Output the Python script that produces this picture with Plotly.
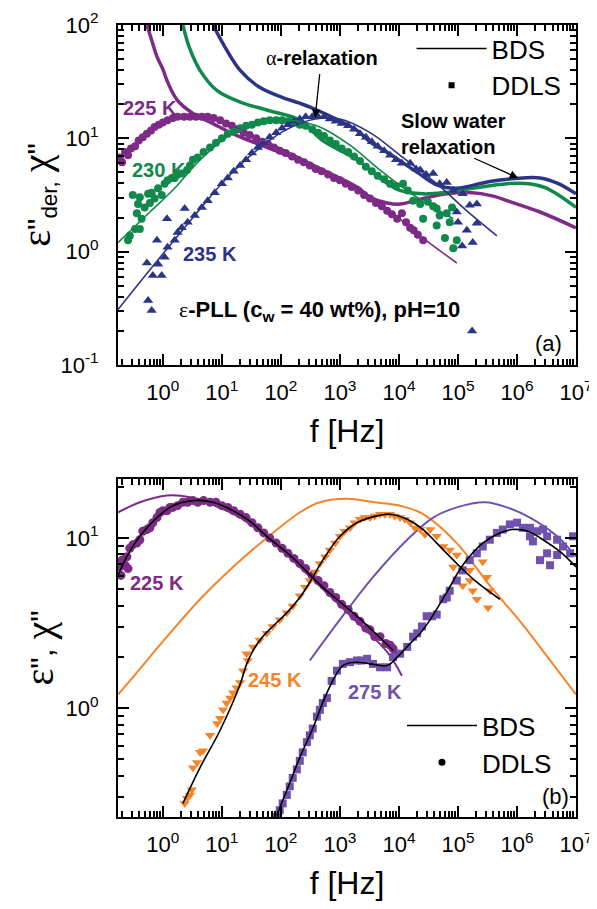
import numpy as np
import plotly.graph_objects as go

# ---------------- Panel (a) data (log10 f [Hz], log10 eps'') ----------------
# BDS derivative spectra (thick lines)
a_bds225_lf = [-0.27, -0.18, -0.10, 0.0, 0.07, 0.24, 0.51, 0.85, 1.19, 1.76, 2.32, 2.71, 3.29, 3.51, 3.80, 4.02, 4.41, 4.81, 5.25, 5.6, 5.83, 6.39, 7.0]
a_bds225_le = [2.0, 1.85, 1.72, 1.61, 1.51, 1.34, 1.22, 1.13, 1.04, 0.92, 0.81, 0.72, 0.57, 0.48, 0.43, 0.42, 0.47, 0.51, 0.52, 0.49, 0.45, 0.35, 0.21]
a_bds230_lf = [0.34, 0.45, 0.63, 0.92, 1.31, 1.76, 2.32, 2.71, 3.29, 3.73, 4.02, 4.41, 4.75, 5.25, 5.83, 6.2, 6.5, 7.0]
a_bds230_le = [2.0, 1.80, 1.60, 1.42, 1.32, 1.25, 1.16, 0.98, 0.81, 0.63, 0.54, 0.51, 0.52, 0.56, 0.60, 0.60, 0.56, 0.39]
a_bds235_lf = [0.85, 1.08, 1.31, 1.64, 2.03, 2.32, 2.61, 3.29, 3.51, 3.85, 4.31, 4.64, 4.98, 5.54, 6.10, 6.39, 6.7, 7.0]
a_bds235_le = [2.0, 1.78, 1.60, 1.45, 1.36, 1.31, 1.25, 1.07, 0.97, 0.86, 0.70, 0.59, 0.56, 0.62, 0.65, 0.65, 0.60, 0.51]

# fits (thin lines)
a_fit225_lf = [-0.76, -0.51, -0.22, 0.12, 0.54, 0.97, 1.47, 2.32, 3.17, 3.80, 4.36, 4.98]
a_fit225_le = [0.79, 0.92, 1.06, 1.16, 1.19, 1.16, 1.04, 0.83, 0.60, 0.38, 0.14, -0.10]
a_fit230_lf = [-0.76, -0.22, 0.20, 0.63, 1.14, 1.64, 2.15, 2.66, 3.17, 3.68, 4.19, 4.92]
a_fit230_le = [0.08, 0.35, 0.56, 0.81, 1.03, 1.13, 1.16, 1.10, 0.94, 0.72, 0.52, 0.29]
a_fit235_lf = [-0.76, -0.39, 0.0, 0.54, 1.05, 1.56, 2.07, 2.58, 3.0, 3.51, 4.02, 4.64, 5.15, 5.66]
a_fit235_le = [-0.51, -0.27, -0.02, 0.32, 0.63, 0.88, 1.07, 1.17, 1.17, 1.05, 0.85, 0.60, 0.36, 0.14]

# DDLS data points
a_dd225_lf = [-0.73, -0.69, -0.64, -0.59, -0.54, -0.47, -0.41, -0.34, -0.27, -0.20, -0.14, -0.07, 0.0, 0.08, 0.17, 0.25, 0.36, 0.46, 0.56, 0.66, 0.76, 0.86, 0.97, 1.07, 1.17, 1.27, 1.37, 1.47, 1.58, 1.68, 1.78, 1.88, 1.98, 2.08, 2.19, 2.29, 2.39, 2.49, 2.59, 2.69, 2.80, 2.90, 3.0, 3.10, 3.20, 3.31, 3.41, 3.51, 3.61, 3.71, 3.80, 3.88, 3.97, 4.05, 4.12, 4.19, 4.25, 4.32, 4.41]
a_dd225_le = [0.83, 0.79, 0.88, 0.85, 0.91, 0.93, 0.98, 1.01, 1.04, 1.07, 1.10, 1.12, 1.14, 1.16, 1.18, 1.19, 1.19, 1.19, 1.19, 1.19, 1.19, 1.18, 1.16, 1.13, 1.11, 1.08, 1.05, 1.03, 1.00, 0.97, 0.95, 0.92, 0.89, 0.87, 0.84, 0.81, 0.79, 0.76, 0.73, 0.71, 0.68, 0.65, 0.63, 0.60, 0.57, 0.54, 0.50, 0.47, 0.43, 0.40, 0.36, 0.33, 0.29, 0.34, 0.26, 0.21, 0.19, 0.15, 0.10]
a_dd230_lf = [-0.59, -0.56, -0.47, -0.39, -0.44, -0.36, -0.42, -0.31, -0.51, -0.39, -0.25, -0.22, -0.19, -0.14, -0.08, -0.02, 0.03, 0.08, 0.15, 0.20, 0.25, 0.32, 0.41, 0.46, 0.51, 0.59, 0.69, 0.80, 0.90, 1.0, 1.10, 1.20, 1.31, 1.41, 1.51, 1.61, 1.71, 1.81, 1.92, 2.02, 2.12, 2.22, 2.32, 2.42, 2.53, 2.63, 2.73, 2.83, 2.93, 3.03, 3.14, 3.24, 3.34, 3.44, 3.54, 3.64, 3.75, 3.85, 3.95, 4.07, 4.15, 4.24, 4.36, 4.41, 4.49, 4.58, 4.64, 4.69, 4.81, 4.86, 4.64, 4.78, 4.90, 4.98, 4.92]
a_dd230_le = [0.10, 0.14, 0.20, 0.20, 0.34, 0.29, 0.42, 0.39, 0.50, 0.48, 0.51, 0.43, 0.52, 0.47, 0.56, 0.50, 0.60, 0.63, 0.65, 0.65, 0.68, 0.69, 0.72, 0.76, 0.81, 0.83, 0.88, 0.92, 0.96, 1.0, 1.04, 1.06, 1.09, 1.11, 1.12, 1.14, 1.15, 1.16, 1.16, 1.16, 1.15, 1.14, 1.12, 1.11, 1.08, 1.05, 1.02, 0.98, 0.95, 0.91, 0.88, 0.84, 0.80, 0.75, 0.71, 0.67, 0.64, 0.60, 0.58, 0.60, 0.54, 0.45, 0.42, 0.29, 0.44, 0.40, 0.38, 0.32, 0.34, 0.26, 0.23, 0.12, 0.39, 0.10, 0.03]
a_dd235_lf = [-0.25, -0.19, -0.27, -0.17, -0.02, -0.10, -0.08, 0.03, 0.07, 0.08, 0.20, 0.25, 0.32, 0.37, 0.42, 0.54, 0.66, 0.76, 0.88, 1.0, 1.10, 1.20, 1.31, 1.41, 1.51, 1.61, 1.71, 1.81, 1.92, 2.02, 2.12, 2.22, 2.32, 2.42, 2.53, 2.63, 2.73, 2.83, 2.93, 3.03, 3.14, 3.24, 3.34, 3.44, 3.54, 3.64, 3.75, 3.85, 3.95, 4.05, 4.19, 4.29, 4.36, 4.46, 4.58, 4.69, 4.81, 4.92, 5.08, 5.20, 5.32, 4.98, 5.0, 5.15, 5.32, 5.07, 5.25, 5.24]
a_dd235_le = [-0.43, -0.52, -0.10, -0.21, -0.21, 0.10, -0.11, -0.05, 0.29, 0.04, 0.10, 0.17, 0.21, 0.38, 0.26, 0.32, 0.39, 0.45, 0.52, 0.60, 0.65, 0.71, 0.76, 0.81, 0.87, 0.92, 0.96, 1.01, 1.05, 1.09, 1.12, 1.15, 1.17, 1.19, 1.19, 1.19, 1.19, 1.17, 1.15, 1.13, 1.11, 1.08, 1.04, 1.01, 0.97, 0.93, 0.89, 0.85, 0.81, 0.78, 0.78, 0.73, 0.72, 0.68, 0.69, 0.60, 0.61, 0.54, 0.51, 0.41, 0.42, 0.35, 0.26, 0.19, 0.25, 0.05, 0.08, -0.70]

# ---------------- Panel (b) data ----------------
b_bds225_lf = [-0.76, -0.61, -0.39, -0.10, 0.17, 0.51, 0.85, 1.19, 1.47, 1.76, 2.15, 2.71, 3.29, 3.90]
b_bds225_le = [0.78, 0.89, 1.01, 1.12, 1.19, 1.22, 1.21, 1.16, 1.10, 1.01, 0.90, 0.71, 0.54, 0.34]
b_bds245_lf = [0.34, 0.63, 0.97, 1.31, 1.42, 1.53, 1.69, 1.86, 2.10, 2.32, 2.49, 2.71, 3.0, 3.29, 3.63, 3.85, 4.14, 4.41, 4.64, 4.98, 5.32, 5.71]
b_bds245_le = [-0.56, -0.35, -0.13, 0.14, 0.26, 0.34, 0.42, 0.48, 0.56, 0.65, 0.74, 0.87, 1.01, 1.09, 1.13, 1.14, 1.11, 1.05, 0.97, 0.85, 0.74, 0.64]
b_bds275_lf = [1.93, 2.15, 2.32, 2.54, 2.78, 3.05, 3.29, 3.51, 3.80, 3.97, 4.19, 4.36, 4.53, 4.81, 5.08, 5.42, 5.71, 5.93, 6.19, 6.44, 6.73, 7.0]
b_bds275_le = [-0.63, -0.44, -0.29, -0.12, 0.09, 0.25, 0.27, 0.26, 0.25, 0.30, 0.38, 0.44, 0.52, 0.68, 0.84, 0.97, 1.03, 1.05, 1.04, 0.99, 0.92, 0.83]

b_fit225_lf = [-0.76, -0.39, 0.07, 0.46, 0.88, 1.31, 1.81, 2.32, 2.83, 3.34, 3.80, 4.05]
b_fit225_le = [1.15, 1.21, 1.25, 1.24, 1.19, 1.12, 0.99, 0.83, 0.66, 0.49, 0.33, 0.19]
b_fit245_lf = [-0.76, -0.56, 0.07, 0.63, 1.19, 1.76, 2.32, 2.66, 3.12, 3.59, 4.02, 4.41, 4.98, 5.54, 6.10, 6.78, 7.0]
b_fit245_le = [0.08, 0.16, 0.42, 0.64, 0.83, 1.0, 1.15, 1.21, 1.23, 1.21, 1.19, 1.14, 0.97, 0.72, 0.49, 0.18, 0.08]
b_fit275_lf = [2.49, 3.0, 3.56, 4.14, 4.58, 4.98, 5.46, 5.83, 6.22, 6.68, 7.0]
b_fit275_le = [0.28, 0.52, 0.77, 0.99, 1.12, 1.18, 1.21, 1.18, 1.12, 1.01, 0.89]

b_dd225_lf = [-0.73, -0.71, -0.69, -0.64, -0.61, -0.59, -0.56, -0.51, -0.44, -0.39, -0.34, -0.27, -0.22, -0.17, -0.10, -0.05, 0.0, 0.07, 0.12, 0.17, 0.25, 0.34, 0.42, 0.51, 0.59, 0.69, 0.80, 0.90, 1.0, 1.10, 1.20, 1.31, 1.41, 1.51, 1.61, 1.71, 1.81, 1.92, 2.02, 2.12, 2.22, 2.32, 2.42, 2.53, 2.63, 2.73, 2.83, 2.93, 3.03, 3.14, 3.24, 3.34, 3.44, 3.51, 3.59, 3.68, 3.78, 3.85, 3.90, 3.95]
b_dd225_le = [0.83, 0.78, 0.87, 0.84, 0.89, 0.82, 0.94, 0.96, 0.97, 0.99, 1.04, 1.05, 1.06, 1.09, 1.12, 1.15, 1.16, 1.16, 1.18, 1.18, 1.19, 1.21, 1.21, 1.22, 1.21, 1.22, 1.21, 1.21, 1.19, 1.18, 1.16, 1.14, 1.12, 1.09, 1.06, 1.03, 1.0, 0.97, 0.94, 0.91, 0.88, 0.85, 0.82, 0.78, 0.75, 0.72, 0.68, 0.65, 0.61, 0.58, 0.54, 0.51, 0.47, 0.46, 0.42, 0.42, 0.38, 0.37, 0.35, 0.32]
b_dd245_lf = [0.37, 0.41, 0.46, 0.49, 0.51, 0.58, 0.63, 0.68, 0.80, 0.92, 0.97, 1.02, 1.08, 1.14, 1.19, 1.25, 1.31, 1.36, 1.42, 1.44, 1.53, 1.64, 1.76, 1.86, 1.98, 2.10, 2.20, 2.32, 2.41, 2.49, 2.58, 2.66, 2.75, 2.83, 2.92, 3.0, 3.08, 3.17, 3.25, 3.34, 3.42, 3.51, 3.59, 3.68, 3.76, 3.85, 3.93, 4.02, 4.10, 4.19, 4.27, 4.36, 4.44, 4.53, 4.64, 4.75, 4.86, 4.98, 4.92, 5.08, 5.20, 5.42, 5.49, 5.08, 5.25, 5.32, 5.54, 5.51, 5.20]
b_dd245_le = [-0.56, -0.53, -0.51, -0.48, -0.35, -0.32, -0.26, -0.25, -0.16, -0.09, -0.06, -0.01, 0.03, 0.06, 0.09, 0.12, 0.15, 0.22, 0.32, 0.28, 0.36, 0.40, 0.44, 0.48, 0.52, 0.56, 0.60, 0.66, 0.71, 0.75, 0.80, 0.85, 0.89, 0.93, 0.97, 1.01, 1.04, 1.06, 1.09, 1.11, 1.12, 1.12, 1.13, 1.14, 1.14, 1.14, 1.13, 1.12, 1.11, 1.09, 1.06, 1.05, 1.02, 1.05, 1.01, 0.95, 0.93, 0.90, 0.83, 0.81, 0.81, 0.86, 0.77, 0.72, 0.69, 0.64, 0.69, 0.59, 0.75]
b_dd275_lf = [1.93, 1.98, 2.03, 2.10, 2.15, 2.20, 2.27, 2.32, 2.37, 2.44, 2.49, 2.54, 2.61, 2.66, 2.71, 2.78, 2.86, 2.95, 3.05, 3.17, 3.29, 3.37, 3.46, 3.56, 3.68, 3.80, 3.90, 4.02, 4.14, 4.24, 4.31, 4.39, 4.47, 4.56, 4.64, 4.75, 4.81, 4.86, 4.98, 5.08, 5.20, 5.32, 5.42, 5.54, 5.66, 5.76, 5.88, 6.0, 6.10, 6.22, 6.34, 6.44, 6.51, 6.68, 6.78, 6.90, 6.95, 6.39, 6.56, 6.51, 6.68, 6.22, 6.27]
b_dd275_le = [-0.64, -0.60, -0.56, -0.51, -0.46, -0.41, -0.36, -0.31, -0.26, -0.20, -0.16, -0.12, -0.05, -0.01, 0.03, 0.06, 0.16, 0.22, 0.26, 0.27, 0.28, 0.28, 0.29, 0.26, 0.24, 0.24, 0.30, 0.32, 0.36, 0.42, 0.44, 0.48, 0.54, 0.54, 0.55, 0.64, 0.65, 0.69, 0.75, 0.81, 0.87, 0.91, 0.95, 0.99, 1.03, 1.05, 1.08, 1.09, 1.06, 1.06, 1.04, 1.05, 1.01, 0.99, 0.95, 0.91, 1.01, 0.87, 0.84, 0.91, 0.90, 1.01, 0.98]

# tick labels
x_ticks = [0, 1, 2, 3, 4, 5, 6, 7]
ya_ticks = [-1, 0, 1, 2]
yb_ticks = [0, 1]

# ---------------- styles ----------------
C225 = "#7d2b87"
C230 = "#11894a"
C235 = "#2c3487"
C245 = "#f5842a"
C275 = "#7151ae"
FONT = "Arial, Liberation Sans, sans-serif"


def p(v):
    return 10 ** np.array(v, dtype=float)


def tick_text(exps):
    return ["10<sup>%d</sup>" % e for e in exps]


def minor_vals(lo, hi):
    return [m * 10.0 ** e for e in range(lo, hi) for m in range(2, 10)]


fig = go.Figure()


def line(lf, le, color, width, xa, ya, shape="spline"):
    fig.add_trace(go.Scatter(x=p(lf), y=p(le), mode="lines", showlegend=False,
                             line=dict(color=color, width=width, shape=shape, smoothing=1.0),
                             xaxis=xa, yaxis=ya, hoverinfo="skip"))


def pts(lf, le, color, symbol, size, xa, ya):
    fig.add_trace(go.Scatter(x=p(lf), y=p(le), mode="markers", showlegend=False,
                             marker=dict(color=color, symbol=symbol, size=size, line=dict(width=0)),
                             xaxis=xa, yaxis=ya, hoverinfo="skip"))


# panel a
line(a_bds225_lf, a_bds225_le, C225, 3.5, "x", "y")
line(a_bds230_lf, a_bds230_le, C230, 3.5, "x", "y")
line(a_bds235_lf, a_bds235_le, C235, 3.5, "x", "y")
pts(a_dd225_lf, a_dd225_le, C225, "circle", 8, "x", "y")
pts(a_dd230_lf, a_dd230_le, C230, "circle", 8, "x", "y")
pts(a_dd235_lf, a_dd235_le, C235, "triangle-up", 9, "x", "y")
line(a_fit225_lf, a_fit225_le, C225, 1.6, "x", "y")
line(a_fit230_lf, a_fit230_le, C230, 1.6, "x", "y")
line(a_fit235_lf, a_fit235_le, C235, 1.6, "x", "y")

# panel b
line(b_fit225_lf, b_fit225_le, C225, 2, "x2", "y2")
line(b_fit245_lf, b_fit245_le, C245, 2, "x2", "y2")
line(b_fit275_lf, b_fit275_le, C275, 2, "x2", "y2")
pts(b_dd225_lf, b_dd225_le, C225, "circle", 9, "x2", "y2")
pts(b_dd245_lf, b_dd245_le, C245, "triangle-down", 9, "x2", "y2")
pts(b_dd275_lf, b_dd275_le, C275, "square", 8, "x2", "y2")
line(b_bds225_lf, b_bds225_le, "black", 1.6, "x2", "y2")
line(b_bds245_lf, b_bds245_le, "black", 1.6, "x2", "y2")
line(b_bds275_lf, b_bds275_le, "black", 1.6, "x2", "y2")

# legend entries
fig.add_trace(go.Scatter(x=[None], y=[None], mode="lines", name="BDS",
                         line=dict(color="black", width=1.5), legend="legend", xaxis="x", yaxis="y"))
fig.add_trace(go.Scatter(x=[None], y=[None], mode="markers", name="DDLS",
                         marker=dict(color="black", symbol="square", size=6), legend="legend", xaxis="x", yaxis="y"))
fig.add_trace(go.Scatter(x=[None], y=[None], mode="lines", name="BDS",
                         line=dict(color="black", width=1.5), legend="legend2", xaxis="x2", yaxis="y2"))
fig.add_trace(go.Scatter(x=[None], y=[None], mode="markers", name="DDLS",
                         marker=dict(color="black", symbol="circle", size=7), legend="legend2", xaxis="x2", yaxis="y2"))


def axis(rng, domain, anchor, exps, lo, hi, title, standoff_lbl, title_standoff):
    return dict(
        type="log", range=rng, domain=domain, anchor=anchor, automargin=False,
        showline=True, linecolor="black", linewidth=2, mirror="allticks",
        ticks="inside", ticklen=11, tickwidth=2, tickcolor="black",
        showgrid=False, zeroline=False,
        tickmode="array", tickvals=[10.0 ** e for e in exps], ticktext=tick_text(exps),
        tickfont=dict(family=FONT, size=22, color="black"),
        ticklabelstandoff=standoff_lbl,
        minor=dict(tickmode="array", tickvals=minor_vals(lo, hi), ticks="inside", ticklen=6,
                   tickwidth=1.5, tickcolor="black", showgrid=False),
        title=dict(text=title, font=dict(family=FONT, size=32, color="black"), standoff=title_standoff),
    )


GR = '<span style="font-family:Liberation Serif;font-size:40px">%s</span>'
ylab_a = GR % "ε" + '"<sub>der,</sub> ' + GR % "χ" + '"'
ylab_b = GR % "ε" + '", ' + GR % "χ" + '"'

# page body has an 8px margin: the plot area is placed so that on screen it spans
# x 118..576, panel (a) y 25..365, panel (b) y 479..817
fig.update_layout(
    width=589, height=901,
    margin=dict(l=110, r=21, t=17, b=92),
    paper_bgcolor="white", plot_bgcolor="white",
    font=dict(family=FONT, color="black"),
    xaxis=axis([-0.76, 7.0], [0, 1], "y", x_ticks, -1, 7, "f [Hz]", 7, 15),
    yaxis=axis([-1, 2], [0.5707, 1.0], "x", ya_ticks, -1, 2, ylab_a, 13, 0),
    xaxis2=axis([-0.76, 7.0], [0, 1], "y2", x_ticks, -1, 7, "f [Hz]", 7, 15),
    yaxis2=axis([-0.64, 1.347], [0.0, 0.4268], "x2", yb_ticks, -1, 2, ylab_b, 13, 2),
    legend=dict(x=0.641, y=1.0, xanchor="left", yanchor="top", bgcolor="rgba(0,0,0,0)",
                font=dict(family=FONT, size=26, color="black"), itemwidth=70, tracegroupgap=0),
    legend2=dict(x=0.62, y=0.145, xanchor="left", yanchor="top", bgcolor="rgba(0,0,0,0)",
                 font=dict(family=FONT, size=26, color="black"), itemwidth=70, tracegroupgap=0),
)

ann = []


def label(text, x, y, xr, yr, color="black", size=20, bold=True, xanchor="center", align="center"):
    t = "<b>%s</b>" % text if bold else text
    ann.append(dict(text=t, x=x, y=y, xref=xr, yref=yr, showarrow=False, xanchor=xanchor,
                    align=align, font=dict(family=FONT, size=size, color=color)))


label("225 K", -0.22, 1.27, "x", "y", C225)
label("230 K", -0.07, 0.72, "x", "y", C230)
label("235 K", 0.80, -0.02, "x", "y", C235)
ann.append(dict(text='<span style="font-family:Liberation Serif">α</span><b>-relaxation</b>',
                x=2.69, y=1.71, xref="x", yref="y", showarrow=False,
                font=dict(family=FONT, size=20, color="black")))
ann.append(dict(x=2.58, y=1.18, ax=2.66, ay=1.58, xref="x", yref="y", axref="x", ayref="y",
                showarrow=True, arrowhead=2, arrowsize=1.3, arrowwidth=1.3, arrowcolor="black", text=""))
label("Slow water<br>relaxation", 4.0, 1.04, "x", "y", xanchor="left", align="left")
ann.append(dict(x=6.02, y=0.65, ax=5.25, ay=0.83, xref="x", yref="y", axref="x", ayref="y",
                showarrow=True, arrowhead=2, arrowsize=1.3, arrowwidth=1.3, arrowcolor="black", text=""))
ann.append(dict(text='<span style="font-family:Liberation Serif">ε</span><b>-PLL (c<sub>w</sub> = 40 wt%), pH=10</b>',
                x=0.24, y=-0.52, xref="x", yref="y", showarrow=False, xanchor="left",
                font=dict(family=FONT, size=22, color="black")))
label("(a)", 6.54, -0.81, "x", "y", size=22, bold=False)

label("225 K", -0.10, 0.735, "x2", "y2", C225)
label("245 K", 1.90, 0.165, "x2", "y2", C245)
label("275 K", 3.59, 0.094, "x2", "y2", C275)
label("(b)", 6.66, -0.52, "x2", "y2", size=22, bold=False)

fig.update_layout(annotations=ann)

fig.write_html("out.html")
